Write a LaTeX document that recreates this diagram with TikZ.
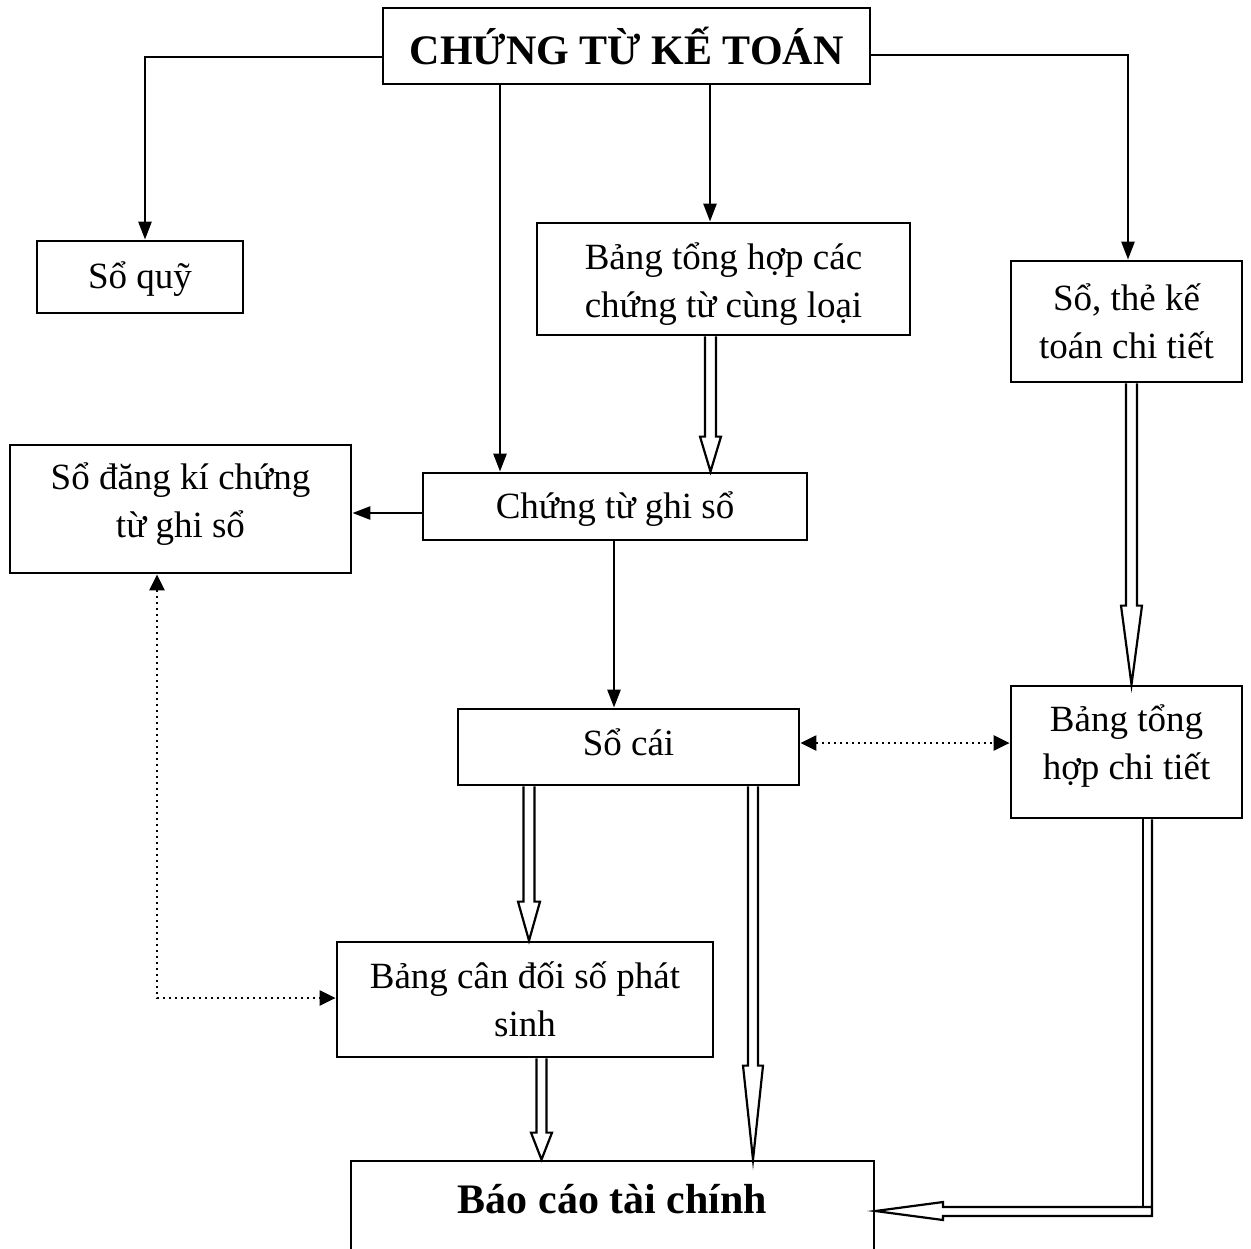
\documentclass[tikz,border=0pt]{standalone}
\usepackage{fontspec}
\setmainfont{Liberation Serif}
\usetikzlibrary{arrows.meta,calc}
\tikzset{
  box/.style={draw, line width=1.4pt, rectangle, inner sep=0pt, align=center,
    font=\fontsize{18.5pt}{24pt}\selectfont},
  txt/.style={align=center, font=\fontsize{18.5pt}{24pt}\selectfont},
  boldtext/.style={font=\fontsize{21pt}{25pt}\selectfont\bfseries},
  conn/.style={line width=1.3pt, -{Triangle[length=9pt,width=6.5pt]}},
  dotconn/.style={line width=1.2pt, line cap=butt, dash pattern=on 1.1pt off 1.9pt,
    {Triangle[length=8pt,width=7.5pt]}-{Triangle[length=8pt,width=7.5pt]}},
  hollow/.style={line width=1.1pt, fill=white, line join=miter},
}
% #1 start, #2 end (with parentheses), #3 shaft half width, #4 head length, #5 head half width
\newcommand\hollowdown[5]{%
  \coordinate (hs) at #1;
  \coordinate (he) at #2;
  \draw[hollow] ($(hs)+(-#3,0)$) -- ($(he)+(-#3,-#4)$) -- ($(he)+(-#5,-#4)$) -- (he)
    -- ($(he)+(#5,-#4)$) -- ($(he)+(#3,-#4)$) -- ($(hs)+(#3,0)$);
}
\begin{document}
\begin{tikzpicture}[x=0.5pt,y=-0.5pt]
\useasboundingbox (0,0) rectangle (1251,1248);
\clip (0,0) rectangle (1251,1248);
\fill[white] (0,0) rectangle (1251,1248);

% boxes
\node[box, boldtext, minimum width=243.5pt, minimum height=38pt] (top) at (626.5,46) {CHỨNG TỪ KẾ TOÁN};
\node[box, minimum width=103pt, minimum height=36pt] (soquy) at (140,277) {};
\node[txt] (soquytext) at (140,279) {Sổ quỹ};
\node[box, minimum width=186.5pt, minimum height=56pt] (bangth) at (723.5,279) {};
\node[txt] (bangthtext) at (723.5,284) {Bảng tổng hợp các\\chứng từ cùng loại};
\node[box, minimum width=115.5pt, minimum height=60.5pt] (sothe) at (1126.5,321.5) {Sổ, thẻ kế\\toán chi tiết};
\node[box, minimum width=170.5pt, minimum height=64pt] (sodk) at (180.5,509) {};
\node[txt] (sodktext) at (180.5,504) {Sổ đăng kí chứng\\từ ghi sổ};
\node[box, minimum width=192pt, minimum height=33.5pt] (ctgs) at (615,506.5) {};
\node[txt] (ctgstext) at (615,509) {Chứng từ ghi sổ};
\node[box, minimum width=170.5pt, minimum height=38pt] (socai) at (628.5,747) {};
\node[txt] (socaitext) at (628.5,742) {Sổ cái};
\node[box, minimum width=115.5pt, minimum height=66pt] (bangthct) at (1126.5,752) {};
\node[txt] (bangthcttext) at (1126.5,746) {Bảng tổng\\hợp chi tiết};
\node[box, minimum width=188pt, minimum height=57.5pt] (bcd) at (525,999.5) {Bảng cân đối số phát\\sinh};
\node[box, minimum width=261.5pt, minimum height=59.5pt] (bctc) at (612.5,1220.5) {};
\node[boldtext] (bctctext) at (612.5,1199) {Báo cáo tài chính};

% single arrows
\draw[conn] (top.west |- 0,57) -- (145,57) -- (145,0 |- soquy.north);
\draw[conn] (top.east |- 0,55) -- (1128,55) -- (1128,0 |- sothe.north);
\draw[conn] (500,0 |- top.south) -- (500,0 |- ctgs.north);
\draw[conn] (710,0 |- top.south) -- (710,0 |- bangth.north);
\draw[conn] (ctgs.west |- 0,513) -- (sodk.east |- 0,513);
\draw[conn] (614,0 |- ctgs.south) -- (614,0 |- socai.north);

% dotted arrows
\draw[dotconn] (socai.east |- 0,743) -- (bangthct.west |- 0,743);
\draw[dotconn] (157,0 |- sodk.south) -- (157,998) -- (bcd.west |- 0,998);

% hollow arrows
\hollowdown{(710.5,0 |- bangth.south)}{(710.5,0 |- ctgs.north)}{5.5}{35}{10.5}
\hollowdown{(1131.5,0 |- sothe.south)}{(1131.5,0 |- bangthct.north)}{5.5}{79}{10.5}
\hollowdown{(529,0 |- socai.south)}{(529,0 |- bcd.north)}{5.5}{39}{11}
\hollowdown{(753,0 |- socai.south)}{(753,0 |- bctc.north)}{5}{94}{10}
\hollowdown{(541.5,0 |- bcd.south)}{(541.5,0 |- bctc.north)}{5}{27}{10.5}

% bent hollow arrow
\coordinate (tipR) at (bctc.east |- 0,1211);
\draw[hollow, fill=none] (1143,0 |- bangthct.south) -- (1143,1206);
\draw[hollow] (1152,0 |- bangthct.south) -- (1152,1216) -- (943,1216) -- (943,1220)
  -- (tipR) -- (943,1202) -- (943,1207) -- (1152,1207);
\end{tikzpicture}
\end{document}
